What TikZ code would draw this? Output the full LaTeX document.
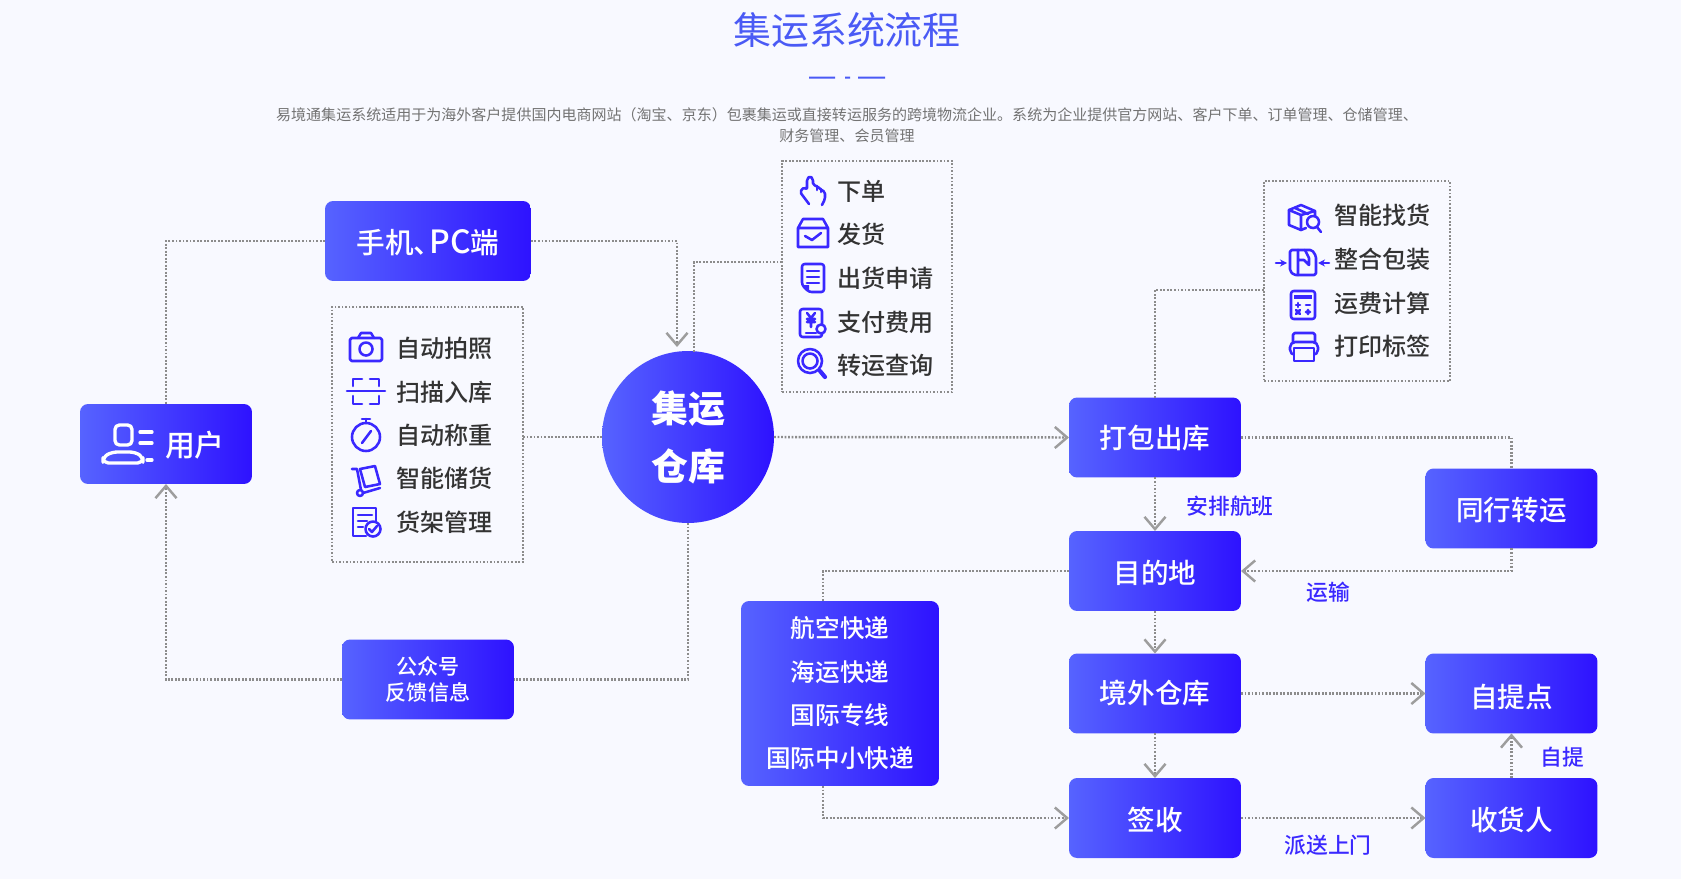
\documentclass[tikz,border=0pt]{standalone}
\usepackage{fontspec}
\setmainfont{Noto Sans CJK SC}[UprightFont=* Medium]
\newfontfamily\plainfont{Noto Sans CJK SC}
\usetikzlibrary{arrows.meta}
\definecolor{pagebg}{HTML}{F8F9FF}
\definecolor{bluel}{HTML}{5663FF}
\definecolor{bluer}{HTML}{2E12FF}
\definecolor{iconblue}{HTML}{3A28FF}
\definecolor{linegray}{HTML}{8C8C8C}
\definecolor{titleblue}{HTML}{4A5AF5}
\tikzset{
  bluebox/.style={rounded corners=0.16cm, left color=bluel, right color=bluer, text=white,
    minimum width=3.44cm, minimum height=1.6cm, inner sep=0pt, outer sep=0pt,
    font=\fontsize{15.7pt}{18pt}\selectfont},
  textdrop/.style={text height=#1, text depth=1.9pt},
  listbox/.style={draw=linegray, line width=1pt, dash pattern=on 1pt off 1pt, inner sep=0pt, outer sep=0pt},
  flow/.style={draw=linegray, line width=1.4pt, dash pattern=on 1.1pt off 0.9pt},
  arrowflow/.style={flow, -{Straight Barb[length=7pt,width=12pt,line width=1.4pt,color=linegray!85]}},
  itemtext/.style={text=black!80, font=\fontsize{13.7pt}{16pt}\selectfont, inner sep=0pt},
  note/.style={text=iconblue, font=\fontsize{12.4pt}{15pt}\selectfont, inner sep=0pt},
  icon/.style={draw=iconblue, line width=1.45pt, line join=round, line cap=round},
  whiteicon/.style={draw=white, line width=1.9pt, line join=round, line cap=round},
}
\begin{document}
\begin{tikzpicture}[x=0.02cm,y=-0.02cm]
  \useasboundingbox (0,0) rectangle (1681,879);
  \fill[pagebg] (0,0) rectangle (1681,879);

  % heading
  \node (title) [text=titleblue, font=\plainfont\fontsize{21.6pt}{25pt}\selectfont, inner sep=0pt] at (847,30){集运系统流程};
  \node (intro) [text=black!55, align=center, font=\plainfont\fontsize{8.55pt}{12pt}\selectfont, inner sep=0pt] at (847,125.5){易境通集运系统适用于为海外客户提供国内电商网站（淘宝、京东）包裹集运或直接转运服务的跨境物流企业。系统为企业提供官方网站、客户下单、订单管理、仓储管理、\\财务管理、会员管理};
  \fill[titleblue] (809,76.5) rectangle (835,78.5) (845,76.5) rectangle (850,78.5) (858,76.5) rectangle (885,78.5);

  % main boxes
  \node (phone) [bluebox, textdrop=16.6pt, minimum width=4.12cm, font=\fontsize{16.3pt}{18pt}\selectfont] at (428,241){手机、\hspace{-.45em}{\fontsize{18.2pt}{18pt}\selectfont PC}端};
  \node (user)  [bluebox, textdrop=16.5pt] at (166,444){\hspace{1.16cm}{\fontsize{17pt}{18pt}\selectfont 用户}};
  \node (feedback) [bluebox, font=\fontsize{12pt}{15pt}\selectfont, align=center] at (428,679.5){公众号\\反馈信息};
  \node (hub) [circle, left color=bluel, right color=bluer, text=white, minimum size=3.44cm, inner sep=0pt, outer sep=0pt,
    align=center, font=\fontsize{21pt}{33pt}\selectfont\bfseries] at (688,437){集运\\仓库};
  \node (pack) [bluebox, textdrop=14.1pt] at (1155,437.5){打包出库};
  \node (dest) [bluebox, textdrop=16.6pt] at (1155,571){目的地};
  \node (oversea) [bluebox, textdrop=13.8pt] at (1155,693.5){境外仓库};
  \node (sign) [bluebox, textdrop=16pt] at (1155,818){签收};
  \node (peer) [bluebox, textdrop=15pt] at (1511.5,508.5){同行转运};
  \node (pickup) [bluebox, textdrop=17.4pt] at (1511.5,693.5){自提点};
  \node (receiver) [bluebox, textdrop=16pt] at (1511.5,818){收货人};
  \node (lines) [bluebox, minimum width=3.96cm, minimum height=3.7cm] at (840,693.5){};
  \foreach \n/\y/\txt in {a/628/航空快递, b/672/海运快递, c/715.5/国际专线, d/758.5/国际中小快递}
    \node (line\n) [text=white, font=\fontsize{14pt}{16pt}\selectfont, inner sep=0pt] at (840,\y){\txt};

  % dotted lists
  \node (storebox) [listbox, minimum width=3.82cm, minimum height=5.1cm] at (427.5,434.5){};
  \node (orderbox) [listbox, minimum width=3.4cm, minimum height=4.62cm] at (867,276.5){};
  \node (packbox)  [listbox, minimum width=3.72cm, minimum height=4cm] at (1357,281){};
  \foreach \n/\y/\txt in {a/348.5/自动拍照, b/392.5/扫描入库, c/435/自动称重, d/478/智能储货, e/522/货架管理}
    \node (store\n) [itemtext, anchor=west] at (396,\y){\txt};
  \foreach \n/\y/\txt in {a/191.5/下单, b/234/发货, c/278/出货申请, d/322/支付费用, e/365.5/转运查询}
    \node (order\n) [itemtext, anchor=west] at (837,\y){\txt};
  \foreach \n/\y/\txt in {a/215.5/智能找货, b/259.5/整合包装, c/303/运费计算, d/346.5/打印标签}
    \node (packs\n) [itemtext, anchor=west] at (1334,\y){\txt};

  % side notes
  \node (notea) [note] at (1230,506){安排航班};
  \node (noteb) [note] at (1328,592){运输};
  \node (notec) [note] at (1562,757){自提};
  \node (noted) [note] at (1328,845){派送上门};

  % bend points
  \coordinate (hubin) at (677,347);
  \coordinate (hubout) at (694,353);
  \coordinate (ordera) at (782,262);
  \coordinate (packa) at (1264,290);
  \coordinate (dropa) at (823,601);
  \coordinate (dropb) at (823,786);

  % connectors
  \draw[flow] (phone.west) -| (user.north);
  \draw[arrowflow] (phone.east) -| (hubin);
  \draw[flow] (ordera) -| (hubout);
  \draw[flow] (storebox.east |- hub.west) -- (hub.west);
  \draw[arrowflow] (hub.east) -- (pack.west);
  \draw[flow] (hub.south) |- (feedback.east);
  \draw[arrowflow] (feedback.west) -| (user.south);
  \draw[flow] (pack.north) |- (packa);
  \draw[flow] (pack.east) -| (peer.north);
  \draw[arrowflow] (peer.south) |- (dest.east);
  \draw[arrowflow] (pack.south) -- (dest.north);
  \draw[flow] (dest.west) -| (dropa);
  \draw[arrowflow] (dest.south) -- (oversea.north);
  \draw[arrowflow] (oversea.south) -- (sign.north);
  \draw[arrowflow] (oversea.east) -- (pickup.west);
  \draw[arrowflow] (dropb) |- (sign.west);
  \draw[arrowflow] (sign.east) -- (receiver.west);
  \draw[arrowflow] (receiver.north) -- (pickup.south);

  % user icon
  \begin{scope}[whiteicon]
    \draw[rounded corners=2.5pt] (115,425) rectangle (132,445);
    \draw[rounded corners=3pt] (112,452) -- (135,452) -- (143,457) -- (143,463) -- (103,463) -- (103,457) -- cycle;
    \draw (140,432) -- (152,432) (140,443) -- (152,443) (147,460) -- (152,460);
  \end{scope}

  % store icons
  \begin{scope}[shift={(366,347)}, icon]
    \draw[rounded corners=1pt] (-16,-9) rectangle (16,14);
    \draw (-8,-9) -- (-5,-14) -- (5,-14) -- (8,-9);
    \draw (0,2) circle (6.5);
  \end{scope}
  \begin{scope}[shift={(366,391)}, icon]
    \draw (-19,0) -- (19,0);
    \draw (-13,-5) -- (-13,-12) -- (-4,-12) (4,-12) -- (13,-12) -- (13,-5);
    \draw (-13,5) -- (-13,13) -- (-4,13) (4,13) -- (13,13) -- (13,5);
  \end{scope}
  \begin{scope}[shift={(366,437)}, icon]
    \draw (0,0) circle (14);
    \draw (0,-14) -- (0,-18) (-4,-18) -- (4,-18);
    \draw (-4,6) -- (5,-6);
  \end{scope}
  \begin{scope}[shift={(366,480)}, icon]
    \draw (-14,-11) -- (-9,-11) -- (-5,10);
    \draw (-6,13) circle (3);
    \draw (-3,13) -- (14,8);
    \draw (-6,-11) -- (9,-14) -- (14,4) -- (-1,7) -- cycle;
  \end{scope}
  \begin{scope}[shift={(365,523)}, icon]
    \draw (1,13) -- (-12,13) -- (-12,-15) -- (11,-15) -- (11,-2);
    \draw (-7,-8) -- (7,-8) (-7,-2) -- (2,-2) (-7,4) -- (-2,4);
    \draw (8,6) circle (7.5);
    \draw (4,6) -- (7,9) -- (12,3);
  \end{scope}

  % order icons
  \begin{scope}[shift={(813,191)}, icon, rounded corners=1pt]
    \draw (-4,13) -- (-13,1) -- (-9,-4) -- (-6,-1) -- (-6,-12) -- (-3,-15) -- (0,-12) -- (0,-6) -- (4,-5) -- (7,-2) -- (12,1) -- (12,8) -- (9,14);
    \draw (4,-5) -- (4,-1) (8,-2) -- (8,1);
  \end{scope}
  \begin{scope}[shift={(813,233)}, icon]
    \draw (-15,-5) -- (-10,-14) -- (10,-14) -- (15,-5) -- (15,14) -- (-15,14) -- cycle (-15,-5) -- (15,-5);
    \draw (-8,3) -- (-1,7) -- (8,0);
  \end{scope}
  \begin{scope}[shift={(813,278)}, icon]
    \draw[rounded corners=1.5pt] (-11,7) -- (-11,-14) -- (11,-14) -- (11,14) -- (-4,14) -- cycle;
    \fill[iconblue] (-11,7) -- (-4,7) -- (-4,14) -- cycle;
    \draw (-6,-7) -- (6,-7) (-6,-1) -- (6,-1) (-6,5) -- (6,5);
  \end{scope}
  \begin{scope}[shift={(811,323)}, icon]
    \draw[rounded corners=1.5pt] (-11,-14) rectangle (11,14);
    \draw (-4,-10) -- (0,-5) -- (4,-10) (-4,-4) -- (4,-4) (-4,-1) -- (4,-1) (0,-5) -- (0,4);
    \draw (-5,10) -- (5,10);
    \draw[fill=pagebg] (10,6) circle (4.5);
  \end{scope}
  \begin{scope}[shift={(812,363)}, icon]
    \draw (-2,-2) circle (12);
    \draw (-2,-2) circle (7.5);
    \draw[line width=2.4pt] (8,8) -- (13,14);
  \end{scope}

  % pack icons
  \begin{scope}[shift={(1303,218)}, icon]
    \draw (-14,-8) -- (-2,-13) -- (12,-7) -- (12,-2);
    \draw (-14,-8) -- (-14,7) -- (-2,12) -- (3,10);
    \draw (-14,-8) -- (-2,-3) -- (12,-7) (-2,-3) -- (-2,12);
    \draw (-8,-10) -- (5,-4);
    \draw (10,4) circle (6);
    \draw (14,9) -- (18,14);
  \end{scope}
  \begin{scope}[shift={(1303,262)}, icon]
    \draw[rounded corners=1pt] (-13,-12) -- (9,-12) -- (13,-6) -- (13,13) -- (-9,13) -- (-13,9) -- cycle;
    \draw (-5,13) -- (-5,-12) (2,-12) -- (6,-4) -- (6,3) -- (1,-2) -- (-5,-2);
    \draw[-{Stealth[length=4pt,width=4pt]}] (-27,1) -- (-16,1);
    \draw[-{Stealth[length=4pt,width=4pt]}] (26,1) -- (15,1);
  \end{scope}
  \begin{scope}[shift={(1303,305)}, icon]
    \draw[rounded corners=1.5pt] (-12,-14) rectangle (12,14);
    \fill[iconblue] (-9,-10) rectangle (9,-6);
    \draw (-7,0) -- (-3,0) (-5,-2) -- (-5,2) (3,0) -- (7,0);
    \draw (-7,5) -- (-3,9) (-7,9) -- (-3,5) (3,7) -- (7,7) (5,5) -- (5,9);
  \end{scope}
  \begin{scope}[shift={(1304,347)}, icon]
    \draw[rounded corners=1pt] (-11,-5) -- (-11,-14) -- (11,-14) -- (11,-5);
    \draw[rounded corners=3pt] (-14,-5) rectangle (14,8);
    \draw[fill=pagebg] (-10,1) rectangle (10,14);
  \end{scope}
\end{tikzpicture}
\end{document}
